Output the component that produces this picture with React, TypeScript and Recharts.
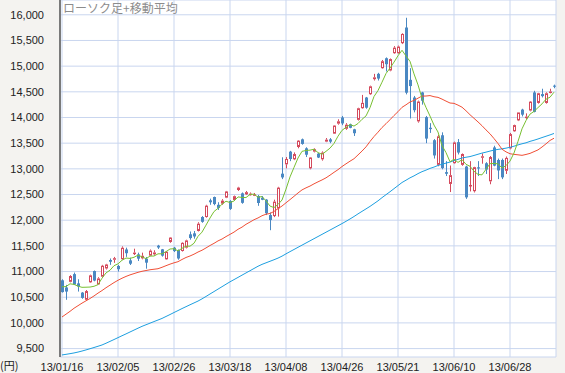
import React from 'react';
import { ComposedChart, Bar, Line, XAxis, YAxis, CartesianGrid } from 'recharts';

const monthDays: [string, number[]][] = [
  ['01', [16, 17, 18, 21, 22, 23, 24, 25, 28, 29, 30, 31]],
  ['02', [1, 4, 5, 6, 7, 8, 12, 13, 14, 15, 18, 19, 20, 21, 22, 25, 26, 27, 28]],
  ['03', [1, 4, 5, 6, 7, 8, 11, 12, 13, 14, 15, 18, 19, 21, 22, 25, 26, 27, 28, 29]],
  ['04', [1, 2, 3, 4, 5, 8, 9, 10, 11, 12, 15, 16, 17, 18, 19, 22, 23, 24, 25, 26, 30]],
  ['05', [1, 2, 7, 8, 9, 10, 13, 14, 15, 16, 17, 20, 21, 22, 23, 24, 27, 28, 29, 30, 31]],
  ['06', [3, 4, 5, 6, 7, 10, 11, 12, 13, 14, 17, 18, 19, 20, 21, 24, 25, 26, 27, 28]],
  ['07', [1, 2, 3, 4, 5, 8, 9, 10, 11, 12, 16]],
];

const opens = [
  10830, 10690, 10800, 10950, 10770, 10590, 10450, 10790, 11010, 10750, 10900, 11060, 11225, 11230, 11108, 11240,
  11430, 11218, 11360, 11335, 11257, 11251, 11309, 11335, 11504, 11433, 11238, 11576, 11465, 11420, 11400, 11465,
  11725, 11744, 11790, 12062, 12062, 12387, 12452, 12300, 12322, 12439, 12374, 12394, 12588, 12523, 12504, 12500,
  12490, 12471, 12439, 12400, 12100, 12080, 12230, 12906, 13088, 13335, 13186, 13426, 13575, 13400, 13010, 13335,
  13296, 13186, 13530, 13575, 13685, 13880, 14000, 13780, 13867, 13770, 13954, 14181, 14389, 14453, 14746, 14850,
  14960, 15154, 14915, 15252, 15252, 15447, 15752, 14733, 14389, 13924, 14488, 14007, 13800, 13558, 13077, 13654,
  12936, 12706, 13110, 13520, 13077, 13045, 12670, 12565, 13030, 13220, 13109, 12757, 13417, 13173, 13173, 12962,
  13398, 13731, 13943, 14154, 13988, 14135, 14488, 14283, 14456, 14283, 14488, 14620,
];
const highs = [
  10850, 10740, 10930, 10980, 10850, 10600, 10640, 10940, 11020, 10890, 11130, 11150, 11255, 11285, 11130, 11490,
  11465, 11270, 11445, 11368, 11368, 11283, 11430, 11415, 11520, 11440, 11400, 11670, 11480, 11430, 11570, 11620,
  11780, 11790, 11960, 12080, 12300, 12420, 12460, 12350, 12410, 12570, 12390, 12480, 12650, 12540, 12569, 12540,
  12530, 12490, 12470, 12410, 12150, 12400, 12650, 13225, 13230, 13350, 13320, 13560, 13590, 13420, 13230, 13400,
  13310, 13340, 13600, 13600, 13850, 13965, 14030, 13890, 13880, 13780, 14190, 14440, 14400, 14620, 14850, 14870,
  15120, 15170, 15150, 15390, 15400, 15640, 15942, 14960, 14420, 14330, 14500, 14030, 13890, 13580, 13660, 13711,
  13150, 13065, 13530, 13580, 13300, 13060, 13150, 13040, 13150, 13300, 13130, 13250, 13450, 13200, 13200, 13240,
  13700, 13860, 14100, 14170, 14080, 14320, 14520, 14480, 14560, 14490, 14560, 14640,
];
const lows = [
  10590, 10450, 10790, 10740, 10610, 10470, 10440, 10780, 10810, 10740, 10890, 11040, 11130, 11170, 11000, 11230,
  11285, 11127, 11322, 11205, 11238, 11056, 11300, 11310, 11440, 11290, 11230, 11560, 11380, 11230, 11390, 11450,
  11620, 11640, 11780, 11950, 12050, 12300, 12290, 12200, 12300, 12430, 12200, 12380, 12570, 12320, 12490, 12480,
  12470, 12280, 12390, 12100, 11805, 12060, 12070, 12800, 13010, 13150, 13170, 13400, 13470, 13230, 12990, 13320,
  13210, 13160, 13520, 13500, 13680, 13860, 13850, 13760, 13790, 13640, 13940, 14170, 14170, 14440, 14720, 14720,
  14950, 14895, 14900, 15240, 15240, 15430, 14450, 13981, 14100, 13900, 14250, 13500, 13700, 13200, 13050, 12990,
  12860, 12548, 13100, 13280, 13060, 12415, 12560, 12540, 12860, 13100, 12900, 12700, 13050, 12800, 12800, 12900,
  13380, 13720, 13930, 14020, 13960, 14120, 14100, 14270, 14390, 14270, 14470, 14570,
];
const closes = [
  10600, 10610, 10913, 10747, 10709, 10487, 10620, 10926, 10824, 10866, 11113, 11138, 11191, 11260, 11046, 11463,
  11357, 11153, 11369, 11251, 11307, 11173, 11407, 11372, 11468, 11309, 11386, 11662, 11399, 11254, 11559, 11606,
  11652, 11683, 11932, 11968, 12283, 12349, 12314, 12239, 12381, 12560, 12220, 12468, 12635, 12338, 12546, 12517,
  12504, 12335, 12397, 12135, 12003, 12362, 12634, 12833, 13192, 13192, 13288, 13549, 13485, 13275, 13221, 13382,
  13220, 13316, 13568, 13529, 13843, 13926, 13884, 13860, 13799, 13694, 14180, 14285, 14191, 14607, 14782, 14758,
  15096, 15037, 15138, 15360, 15381, 15627, 14483, 14612, 14142, 14311, 14326, 13589, 13774, 13261, 13633, 13014,
  12904, 12877, 13514, 13317, 13289, 12445, 12686, 13033, 13007, 13245, 12986, 13230, 13062, 12969, 12834, 13213,
  13677, 13852, 14098, 14055, 14018, 14309, 14109, 14472, 14416, 14472, 14506, 14599,
];
const ma5 = [
  10702, 10708, 10761, 10750, 10716, 10693, 10695, 10698, 10713, 10745, 10870, 10973, 11026, 11114, 11150, 11220,
  11263, 11256, 11278, 11319, 11287, 11251, 11301, 11302, 11345, 11346, 11388, 11439, 11445, 11402, 11452, 11496,
  11494, 11551, 11686, 11768, 11904, 12043, 12169, 12231, 12313, 12369, 12343, 12374, 12453, 12444, 12441, 12501,
  12508, 12448, 12460, 12378, 12275, 12246, 12306, 12393, 12605, 12843, 13028, 13211, 13341, 13358, 13364, 13382,
  13317, 13283, 13341, 13403, 13495, 13636, 13750, 13808, 13862, 13833, 13883, 13964, 14030, 14191, 14409, 14525,
  14687, 14856, 14962, 15078, 15202, 15309, 15198, 15093, 14849, 14635, 14375, 14196, 14028, 13852, 13717, 13454,
  13317, 13138, 13188, 13125, 13180, 13088, 13050, 12954, 12892, 12883, 12991, 13100, 13106, 13098, 13016, 13062,
  13151, 13309, 13535, 13779, 13940, 14066, 14118, 14193, 14265, 14356, 14395, 14493,
];
const ma25 = [
  10115, 10170, 10225, 10285, 10335, 10385, 10430, 10475, 10525, 10580, 10630, 10685, 10735, 10785, 10830, 10870,
  10905, 10935, 10960, 10985, 11005, 11020, 11035, 11045, 11055, 11083, 11114, 11144, 11170, 11192, 11235, 11274,
  11303, 11338, 11380, 11415, 11460, 11507, 11549, 11597, 11633, 11681, 11724, 11768, 11823, 11865, 11920, 11964,
  12009, 12044, 12087, 12117, 12131, 12170, 12225, 12276, 12339, 12401, 12465, 12530, 12590, 12630, 12665, 12708,
  12747, 12784, 12825, 12877, 12932, 12984, 13045, 13098, 13149, 13197, 13271, 13346, 13428, 13533, 13629, 13714,
  13805, 13879, 13957, 14039, 14113, 14198, 14247, 14302, 14333, 14376, 14417, 14418, 14427, 14404, 14392, 14358,
  14319, 14282, 14275, 14241, 14201, 14131, 14054, 13984, 13914, 13840, 13758, 13682, 13590, 13493, 13382, 13331,
  13294, 13282, 13273, 13263, 13280, 13301, 13335, 13369, 13425, 13487, 13553, 13596,
];
const ma75 = [
  9376, 9388, 9401, 9415, 9432, 9452, 9474, 9497, 9521, 9545, 9570, 9604, 9640, 9676, 9713, 9750,
  9786, 9823, 9860, 9897, 9933, 9964, 9995, 10026, 10056, 10087, 10125, 10163, 10202, 10240, 10279, 10316,
  10353, 10389, 10425, 10468, 10515, 10563, 10610, 10658, 10705, 10753, 10800, 10843, 10886, 10930, 10973, 11016,
  11060, 11103, 11140, 11170, 11200, 11230, 11262, 11300, 11345, 11388, 11430, 11472, 11514, 11556, 11598, 11640,
  11682, 11724, 11766, 11808, 11850, 11892, 11934, 11978, 12024, 12072, 12123, 12172, 12220, 12269, 12323, 12377,
  12439, 12497, 12554, 12614, 12674, 12734, 12779, 12825, 12863, 12907, 12945, 12975, 13009, 13035, 13066, 13089,
  13112, 13132, 13160, 13185, 13212, 13226, 13239, 13261, 13284, 13307, 13325, 13346, 13365, 13379, 13390, 13403,
  13420, 13441, 13466, 13488, 13507, 13535, 13557, 13582, 13609, 13635, 13661, 13689,
];

const yTicks = [9500, 10000, 10500, 11000, 11500, 12000, 12500, 13000, 13500, 14000, 14500, 15000, 15500, 16000];
const xTickIndex = [0, 14, 28, 42, 56, 70, 84, 98, 112];

const dates: string[] = [];
monthDays.forEach(([m, days]) => {
  days.forEach((d) => dates.push(`13/${m}/${String(d).padStart(2, '0')}`));
});
const xTicks = xTickIndex.map((i) => dates[i]);

const data = dates.map((date, i) => ({
  date,
  open: opens[i],
  high: highs[i],
  low: lows[i],
  close: closes[i],
  range: [lows[i], highs[i]],
  ma5: ma5[i],
  ma25: ma25[i],
  ma75: ma75[i],
}));

const UP = '#d4495c';
const DOWN = '#4a88c2';

const Candle = (props: any) => {
  const { x, y, width, height, payload } = props;
  if (!payload || x == null || y == null) return null;
  const { open, close, high, low } = payload;
  let top = y;
  let h = height;
  if (h < 0) {
    top = y + h;
    h = -h;
  }
  const span = high - low || 1;
  const toY = (v: number) => top + ((high - v) / span) * h;
  const cx = x + width / 2 + 0.5;
  const up = close >= open;
  const yo = toY(open);
  const yc = toY(close);
  const bTop = Math.min(yo, yc);
  const bBot = Math.max(yo, yc);
  const color = up ? UP : DOWN;
  if (up) {
    const bh = Math.max(bBot - bTop, 1);
    return (
      <g>
        <line x1={cx} x2={cx} y1={top} y2={bTop} stroke={color} strokeWidth={1} />
        <line x1={cx} x2={cx} y1={bTop + bh} y2={top + h} stroke={color} strokeWidth={1} />
        <rect x={cx - 1} y={bTop + 0.5} width={2} height={Math.max(bh - 1, 0.5)} fill="#ffffff" stroke={color} strokeWidth={1} />
      </g>
    );
  }
  return (
    <g>
      <line x1={cx} x2={cx} y1={top} y2={top + h} stroke={color} strokeWidth={1} />
      <rect x={cx - 1.5} y={bTop} width={3} height={Math.max(bBot - bTop, 1)} fill={color} />
    </g>
  );
};

const tickStyle = { fontSize: 11, fill: '#222222', fontFamily: '"Liberation Sans", Arial, sans-serif' };

export default function App() {
  return (
    <div style={{ position: 'absolute', left: 0, top: 0, width: 565, height: 373, background: '#f4f3f0', overflow: 'hidden' }}>
      <ComposedChart
        width={565}
        height={373}
        data={data}
        margin={{ top: 0, right: 9, bottom: 0, left: 0 }}
        barCategoryGap={0}
        barGap={0}
      >
        <CartesianGrid stroke="#c9d6ef" strokeWidth={1} fill="#ffffff" fillOpacity={1} />
        <XAxis
          dataKey="date"
          type="category"
          ticks={xTicks}
          interval={0}
          height={16}
          axisLine={false}
          tickLine={false}
          tickSize={0}
          tickMargin={6}
          tick={tickStyle}
        />
        <YAxis
          type="number"
          domain={[9336, 16288]}
          allowDataOverflow
          ticks={yTicks}
          interval={0}
          width={60}
          axisLine={{ stroke: '#7a7a7a', strokeWidth: 2 }}
          tickLine={false}
          tickSize={0}
          tickMargin={16}
          tick={tickStyle}
          tickFormatter={(v: number) => v.toLocaleString('en-US')}
        />
        <Bar dataKey="range" shape={<Candle />} isAnimationActive={false} />
        <Line type="linear" dataKey="ma75" stroke="#1d9fe0" strokeWidth={1} dot={false} isAnimationActive={false} />
        <Line type="linear" dataKey="ma25" stroke="#f04f36" strokeWidth={1} dot={false} isAnimationActive={false} />
        <Line type="linear" dataKey="ma5" stroke="#78c032" strokeWidth={1} dot={false} isAnimationActive={false} />
      </ComposedChart>
      <svg width={565} height={373} style={{ position: 'absolute', left: 0, top: 0, pointerEvents: 'none' }}>
        <text x={63} y={13} fontSize={12} fill="#8c8c8c" fontFamily='"Noto Sans CJK JP", sans-serif'>
          ローソク足+移動平均
        </text>
        <text x={0} y={370} fontSize={11} fill="#222222" fontFamily='"Noto Sans CJK JP", "Liberation Sans", sans-serif'>
          (円)
        </text>
      </svg>
    </div>
  );
}
